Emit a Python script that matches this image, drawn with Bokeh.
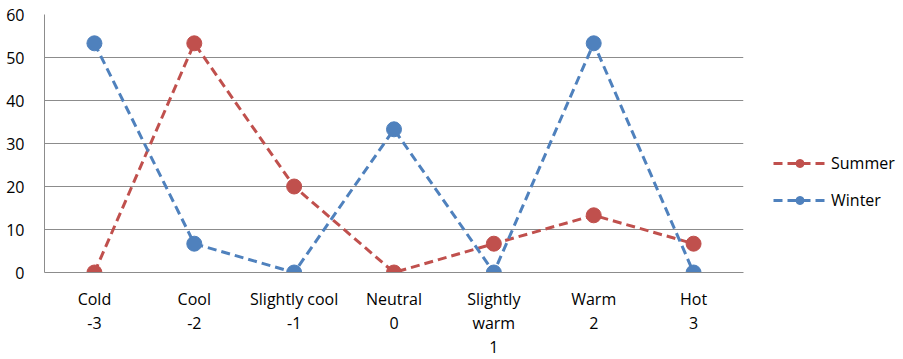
from bokeh.plotting import figure
from bokeh.models import FactorRange, Legend, LegendItem, ColumnDataSource
from bokeh.embed import file_html
from bokeh.resources import INLINE

categories = ["Cold\n-3", "Cool\n-2", "Slightly cool\n-1", "Neutral\n0",
              "Slightly\nwarm\n1", "Warm\n2", "Hot\n3"]
summer = [0, 53.3, 20, 0, 6.7, 13.3, 6.7]
winter = [53.3, 6.7, 0, 33.3, 0, 53.3, 0]

FONT = "Open Sans"
RED = "#C0504D"
BLUE = "#4F81BD"

p = figure(frame_width=699, frame_height=258,
           x_range=FactorRange(factors=categories, range_padding=0),
           y_range=(0, 60), output_backend="svg", toolbar_location=None,
           min_border_left=44, min_border_top=14, min_border_bottom=0, min_border_right=0)
p.outline_line_color = None
p.background_fill_color = "white"

src = ColumnDataSource(dict(x=categories, summer=summer, winter=winter))

rs_l = p.line("x", "summer", source=src, line_color=RED, line_width=3, line_dash="9 5")
rs_m = p.scatter("x", "summer", source=src, size=15, fill_color=RED, line_color=RED)
rw_l = p.line("x", "winter", source=src, line_color=BLUE, line_width=3, line_dash="9 5")
rw_m = p.scatter("x", "winter", source=src, size=15, fill_color=BLUE, line_color=BLUE)

p.xgrid.grid_line_color = None
p.ygrid.grid_line_color = "#8c8c8c"
p.ygrid.grid_line_width = 1
p.yaxis.ticker = [0, 10, 20, 30, 40, 50, 60]

for ax in (p.xaxis[0], p.yaxis[0]):
    ax.major_tick_line_color = None
    ax.minor_tick_line_color = None
    ax.axis_line_color = "#8c8c8c"
    ax.major_label_text_font = FONT
    ax.major_label_text_font_size = "16px"
    ax.major_label_text_color = "#000000"

p.yaxis.major_label_standoff = 14
p.xaxis.major_label_standoff = 9
p.xaxis.major_label_text_line_height = 1.1
p.xaxis.group_text_font_size = "0px"

legend = Legend(items=[LegendItem(label="Summer", renderers=[rs_l, rs_m]),
                       LegendItem(label="Winter", renderers=[rw_l, rw_m])],
                location=(30, 61), orientation="vertical")
legend.glyph_width = 53
legend.glyph_height = 20
legend.label_height = 20
legend.spacing = 15
legend.padding = 0
legend.margin = 0
legend.label_standoff = 5
legend.border_line_color = None
legend.background_fill_alpha = 0
legend.label_text_font = FONT
legend.label_text_font_size = "16px"
legend.label_text_color = "#000000"
p.add_layout(legend, "right")

open("out.html", "w").write(file_html(p, INLINE))
